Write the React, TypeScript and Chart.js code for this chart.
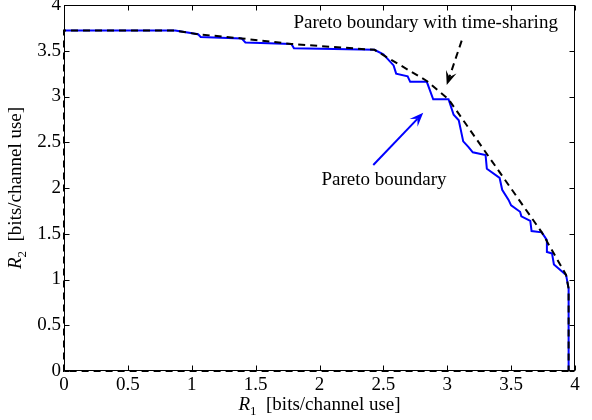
import React, { useEffect, useRef } from 'react';
import { Chart, registerables } from 'chart.js';

Chart.register(...registerables);

// Pareto boundary (solid blue)
const paretoR1 = [0, 0.87, 1.05, 1.07, 1.39, 1.42, 1.78, 1.80, 2.43, 2.50, 2.58, 2.60, 2.69, 2.71, 2.84, 2.89, 3.01, 3.05, 3.09, 3.125, 3.165, 3.20, 3.30, 3.31, 3.41, 3.43, 3.48, 3.50, 3.57, 3.58, 3.65, 3.66, 3.74, 3.78, 3.78, 3.82, 3.835, 3.91, 3.93, 3.95, 3.95];
const paretoR2 = [3.72, 3.72, 3.68, 3.65, 3.635, 3.59, 3.574, 3.527, 3.51, 3.46, 3.34, 3.25, 3.22, 3.16, 3.16, 2.97, 2.97, 2.80, 2.74, 2.51, 2.45, 2.39, 2.36, 2.21, 2.11, 1.98, 1.87, 1.81, 1.74, 1.69, 1.64, 1.53, 1.515, 1.43, 1.30, 1.285, 1.165, 1.075, 1.05, 0.90, 0];

// Pareto boundary with time-sharing (dashed black)
const tsR1 = [3.95, 0, 0, 0.87, 1.05, 1.39, 1.78, 2.43, 2.84, 3.01, 3.74, 3.93, 3.95, 3.95];
const tsR2 = [0, 0, 3.72, 3.72, 3.68, 3.635, 3.574, 3.51, 3.17, 2.97, 1.515, 1.05, 0.90, 0];

const xTicks = [0, 0.5, 1, 1.5, 2, 2.5, 3, 3.5, 4];
const yTicks = [0, 0.5, 1, 1.5, 2, 2.5, 3, 3.5, 4];
const xTickLabels = ['0', '0.5', '1', '1.5', '2', '2.5', '3', '3.5', '4'];
const yTickLabels = ['0', '0.5', '1', '1.5', '2', '2.5', '3', '3.5', '4'];

const labelPareto = 'Pareto boundary';
const labelTS = 'Pareto boundary with time-sharing';
const axisUnit = '  [bits/channel use]';

const FONT = '"Liberation Serif", "Times New Roman", serif';
const FS = 19;

type Part = { text: string; italic?: boolean; sub?: boolean };

function drawMixed(ctx: CanvasRenderingContext2D, parts: Part[], cx: number, baseline: number) {
  const fontFor = (p: Part) => `${p.italic ? 'italic ' : ''}${p.sub ? 13 : FS}px ${FONT}`;
  let total = 0;
  const widths = parts.map((p) => {
    ctx.font = fontFor(p);
    const w = ctx.measureText(p.text).width;
    total += w;
    return w;
  });
  let x = cx - total / 2;
  ctx.textAlign = 'left';
  ctx.textBaseline = 'alphabetic';
  parts.forEach((p, i) => {
    ctx.font = fontFor(p);
    ctx.fillText(p.text, x, baseline + (p.sub ? 5 : 0));
    x += widths[i];
  });
}

function drawArrow(ctx: CanvasRenderingContext2D, x1: number, y1: number, x2: number, y2: number, color: string, dash: number[]) {
  const ang = Math.atan2(y2 - y1, x2 - x1);
  const dx = Math.cos(ang), dy = Math.sin(ang);
  const nx = -dy, ny = dx;
  const L = 14, W = 5.5;
  ctx.save();
  ctx.strokeStyle = color;
  ctx.fillStyle = color;
  ctx.lineWidth = 2;
  ctx.setLineDash(dash);
  ctx.beginPath();
  ctx.moveTo(x1, y1);
  ctx.lineTo(x2 - dx * L * 0.6, y2 - dy * L * 0.6);
  ctx.stroke();
  ctx.setLineDash([]);
  ctx.beginPath();
  ctx.moveTo(x2, y2);
  ctx.lineTo(x2 - dx * L + nx * W, y2 - dy * L + ny * W);
  ctx.lineTo(x2 - dx * L * 0.6, y2 - dy * L * 0.6);
  ctx.lineTo(x2 - dx * L - nx * W, y2 - dy * L - ny * W);
  ctx.closePath();
  ctx.fill();
  ctx.restore();
}

const decorPlugin = {
  id: 'decor',
  afterDraw(chart: any) {
    const { ctx, chartArea: a, scales } = chart;
    const xs = scales.x, ys = scales.y;
    ctx.save();
    // frame
    ctx.strokeStyle = '#000';
    ctx.lineWidth = 1;
    ctx.setLineDash([]);
    const L = Math.round(a.left) + 0.5, R = Math.round(a.right) - 0.5;
    const T = Math.round(a.top) + 0.5, B = Math.round(a.bottom) - 0.5;
    ctx.strokeRect(L, T, R - L, B - T);
    // inward ticks
    const tl = 5;
    ctx.beginPath();
    xTicks.forEach((v) => {
      const px = Math.round(xs.getPixelForValue(v)) + 0.5;
      ctx.moveTo(px, B); ctx.lineTo(px, B - tl);
      ctx.moveTo(px, T); ctx.lineTo(px, T + tl);
    });
    yTicks.forEach((v) => {
      const py = Math.round(ys.getPixelForValue(v)) + 0.5;
      ctx.moveTo(L, py); ctx.lineTo(L + tl, py);
      ctx.moveTo(R, py); ctx.lineTo(R - tl, py);
    });
    ctx.stroke();

    // axis titles
    ctx.fillStyle = '#000';
    drawMixed(ctx, [{ text: 'R', italic: true }, { text: '1', sub: true }, { text: axisUnit }], (a.left + a.right) / 2, 410);
    ctx.save();
    ctx.translate(21, (a.top + a.bottom) / 2);
    ctx.rotate(-Math.PI / 2);
    drawMixed(ctx, [{ text: 'R', italic: true }, { text: '2', sub: true }, { text: axisUnit }], 0, 0);
    ctx.restore();

    // annotations
    drawArrow(ctx, xs.getPixelForValue(2.421), ys.getPixelForValue(2.251), xs.getPixelForValue(2.812), ys.getPixelForValue(2.822), '#0000ff', []);
    drawArrow(ctx, xs.getPixelForValue(3.113), ys.getPixelForValue(3.61), xs.getPixelForValue(2.996), ys.getPixelForValue(3.126), '#000000', [7, 5]);

    ctx.font = `${FS}px ${FONT}`;
    ctx.fillStyle = '#000';
    ctx.textBaseline = 'alphabetic';
    ctx.textAlign = 'center';
    ctx.fillText(labelPareto, xs.getPixelForValue(2.505), ys.getPixelForValue(2.033));
    ctx.textAlign = 'right';
    ctx.fillText(labelTS, xs.getPixelForValue(3.866), ys.getPixelForValue(3.749));
    ctx.restore();
  },
};

export default function App() {
  const ref = useRef<HTMLCanvasElement | null>(null);
  useEffect(() => {
    if (!ref.current) return;
    const font = { family: FONT, size: FS };
    const chart = new Chart(ref.current, {
      type: 'scatter',
      data: {
        datasets: [
          {
            label: labelTS,
            data: tsR1.map((x, i) => ({ x, y: tsR2[i] })),
            showLine: true,
            borderColor: '#000000',
            borderWidth: 2,
            borderDash: [7, 5],
            pointRadius: 0,
            tension: 0,
            order: 0,
            clip: false,
          } as any,
          {
            label: labelPareto,
            data: paretoR1.map((x, i) => ({ x, y: paretoR2[i] })),
            showLine: true,
            borderColor: '#0000ff',
            borderWidth: 2,
            pointRadius: 0,
            tension: 0,
            order: 1,
            clip: false,
          } as any,
        ],
      },
      options: {
        animation: false,
        responsive: false,
        maintainAspectRatio: false,
        layout: { padding: { left: 0, right: 17, top: 5, bottom: 0 } },
        plugins: { legend: { display: false }, tooltip: { enabled: false }, title: { display: false } },
        scales: {
          x: {
            type: 'linear',
            min: 0,
            max: 4,
            ticks: {
              stepSize: 0.5, font, color: '#000', padding: 3, maxRotation: 0, autoSkip: false,
              callback: (v: any) => { const i = xTicks.indexOf(Number(v)); return i >= 0 ? xTickLabels[i] : ''; },
            },
            grid: { display: false, drawTicks: false },
            border: { display: false },
            afterFit: (s: any) => { s.height = 49; s.paddingLeft = 0; s.paddingRight = 0; },
          },
          y: {
            type: 'linear',
            min: 0,
            max: 4,
            ticks: {
              stepSize: 0.5, font, color: '#000', padding: 3, autoSkip: false,
              callback: (v: any) => { const i = yTicks.indexOf(Number(v)); return i >= 0 ? yTickLabels[i] : ''; },
            },
            grid: { display: false, drawTicks: false },
            border: { display: false },
            afterFit: (s: any) => { s.width = 64; s.paddingTop = 0; s.paddingBottom = 0; },
          },
        },
      },
      plugins: [decorPlugin],
    });
    return () => chart.destroy();
  }, []);
  return (
    <div style={{ position: 'fixed', left: 0, top: 0, width: 592, height: 420, background: '#fff' }}>
      <canvas ref={ref} width={592} height={420} style={{ width: 592, height: 420, display: 'block' }} />
    </div>
  );
}
